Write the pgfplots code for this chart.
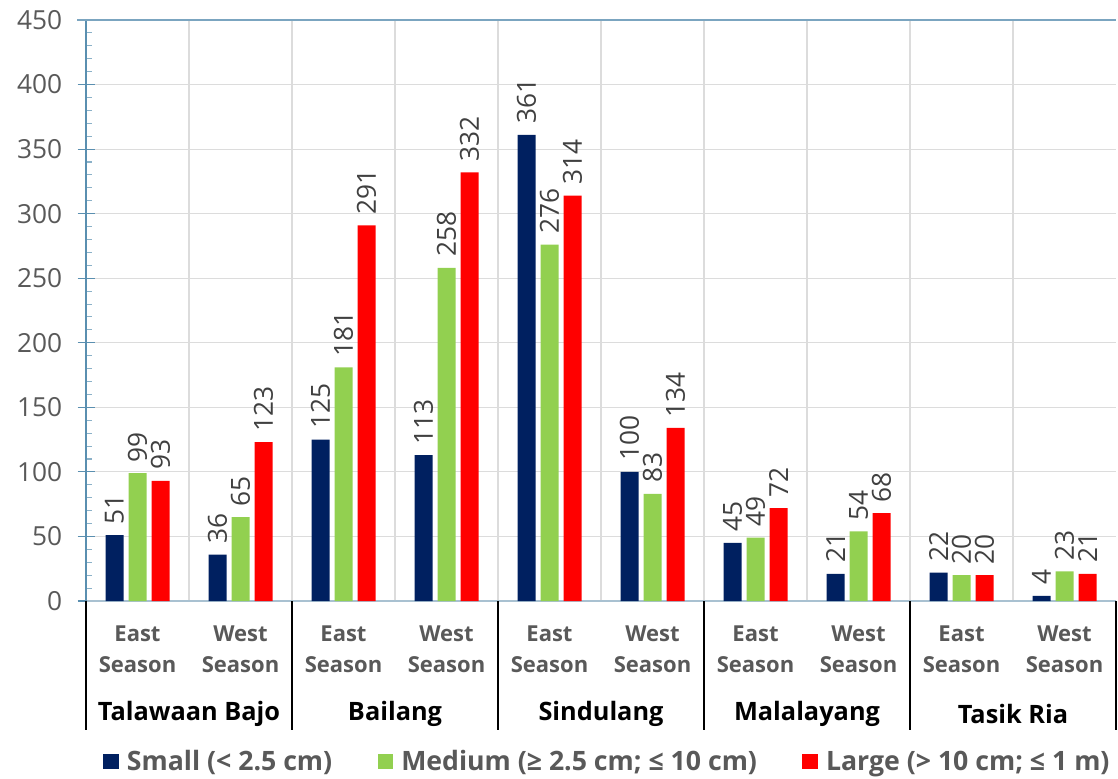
\documentclass[border=0pt]{standalone}
\usepackage{pgfplots}
\pgfplotsset{compat=1.18}
\usepackage{fontspec}
\setmainfont{Open Sans}
\definecolor{cSmall}{HTML}{002060}
\definecolor{cMed}{HTML}{92D050}
\definecolor{cLarge}{HTML}{FF0000}
\definecolor{txtgray}{HTML}{595959}
\definecolor{lblgray}{HTML}{404040}
\definecolor{axblue}{HTML}{5A8FB0}
\definecolor{axlight}{HTML}{A9C1D1}
\definecolor{gridgray}{HTML}{DCDCDC}
\begin{document}
\begin{tikzpicture}
\begin{axis}[
  name=ax,
  scale only axis,
  width=772.5pt, height=435.75pt,
  ybar=3.75pt, bar width=13.5pt,
  xmin=-0.5, xmax=9.5,
  ymin=0, ymax=450,
  ytick={0,50,...,450},
  minor y tick num=4,
  xtick={0,...,9},
  xticklabels={East\\Season,West\\Season,East\\Season,West\\Season,East\\Season,West\\Season,East\\Season,West\\Season,East\\Season,West\\Season},
  xticklabel style={align=center, font=\fontsize{16.5}{23.25}\selectfont\bfseries, text=txtgray},
  x tick label style={yshift=-2pt},
  minor xtick={0.5,1.5,...,8.5},
  xminorgrids, ymajorgrids,
  minor x grid style={gridgray, line width=0.9pt},
  major y grid style={gridgray, line width=0.9pt},
  major x tick style={draw=none},
  minor x tick style={draw=none},
  axis x line*=bottom,
  axis y line*=left,
  x axis line style={axlight, line width=1.2pt, -},
  y axis line style={axblue, line width=1pt, -},
  ytick style={axblue, line width=0.9pt},
  ytick align=center,
  major tick length=12.75pt,
  minor tick length=4.5pt,
  minor y tick style={xshift=2.25pt, axblue!70, line width=0.8pt},
  yticklabel style={font=\fontsize{19.7}{20}\selectfont, text=txtgray, xshift=-8pt},
  /pgf/number format/assume math mode=true,
  nodes near coords,
  every node near coord/.append style={rotate=90, anchor=west, font=\fontsize{19.7}{20}\selectfont, text=lblgray, inner xsep=8pt},
  legend columns=3,
  legend style={draw=none, at={(0.5,0)}, anchor=north, yshift=-108pt, xshift=5pt,
    font=\fontsize{20}{21}\selectfont\bfseries, text=txtgray,
    /tikz/every odd column/.append style={column sep=4pt},
    /tikz/every even column/.append style={column sep=32pt}},
  legend image code/.code={\fill[#1] (0pt,-5.8pt) rectangle (11.8pt,5.8pt);},
  clip=false,
]
\addplot[fill=cSmall, draw=none] coordinates {(0,51) (1,36) (2,125) (3,113) (4,361) (5,100) (6,45) (7,21) (8,22) (9,4)};
\addplot[fill=cMed, draw=none] coordinates {(0,99) (1,65) (2,181) (3,258) (4,276) (5,83) (6,49) (7,54) (8,20) (9,23)};
\addplot[fill=cLarge, draw=none] coordinates {(0,93) (1,123) (2,291) (3,332) (4,314) (5,134) (6,72) (7,68) (8,20) (9,21)};
\legend{Small (< 2.5 cm), Medium (≥ 2.5 cm; ≤ 10 cm), Large (> 10 cm; ≤ 1 m)}
\draw[axblue!80, line width=1.5pt] ([xshift=-6.4pt]rel axis cs:0,1) -- (rel axis cs:1,1);
\draw[black, line width=1.3pt] (axis cs:-0.5,0) -- ([yshift=-96.75pt]axis cs:-0.5,0);
\draw[black, line width=1.3pt] (axis cs:1.5,0) -- ([yshift=-96.75pt]axis cs:1.5,0);
\draw[black, line width=1.3pt] (axis cs:3.5,0) -- ([yshift=-96.75pt]axis cs:3.5,0);
\draw[black, line width=1.3pt] (axis cs:5.5,0) -- ([yshift=-96.75pt]axis cs:5.5,0);
\draw[black, line width=1.3pt] (axis cs:7.5,0) -- ([yshift=-96.75pt]axis cs:7.5,0);
\draw[black, line width=1.3pt] (axis cs:9.5,0) -- ([yshift=-96.75pt]axis cs:9.5,0);
\node[font=\fontsize{19}{20}\selectfont\bfseries, text=black] at ([yshift=-84.5pt]axis cs:0.5,0) {Talawaan Bajo};
\node[font=\fontsize{19}{20}\selectfont\bfseries, text=black] at ([yshift=-84.5pt]axis cs:2.5,0) {Bailang};
\node[font=\fontsize{19}{20}\selectfont\bfseries, text=black] at ([yshift=-84.5pt]axis cs:4.5,0) {Sindulang};
\node[font=\fontsize{19}{20}\selectfont\bfseries, text=black] at ([yshift=-84.5pt]axis cs:6.5,0) {Malalayang};
\node[font=\fontsize{19}{20}\selectfont\bfseries, text=black] at ([yshift=-84.5pt]axis cs:8.5,0) {Tasik Ria};
\end{axis}
\pgfresetboundingbox
\path ([shift={(-64.5pt,-132.75pt)}]ax.south west) rectangle ([shift={(1.5pt,15pt)}]ax.north east);
\end{tikzpicture}
\end{document}
